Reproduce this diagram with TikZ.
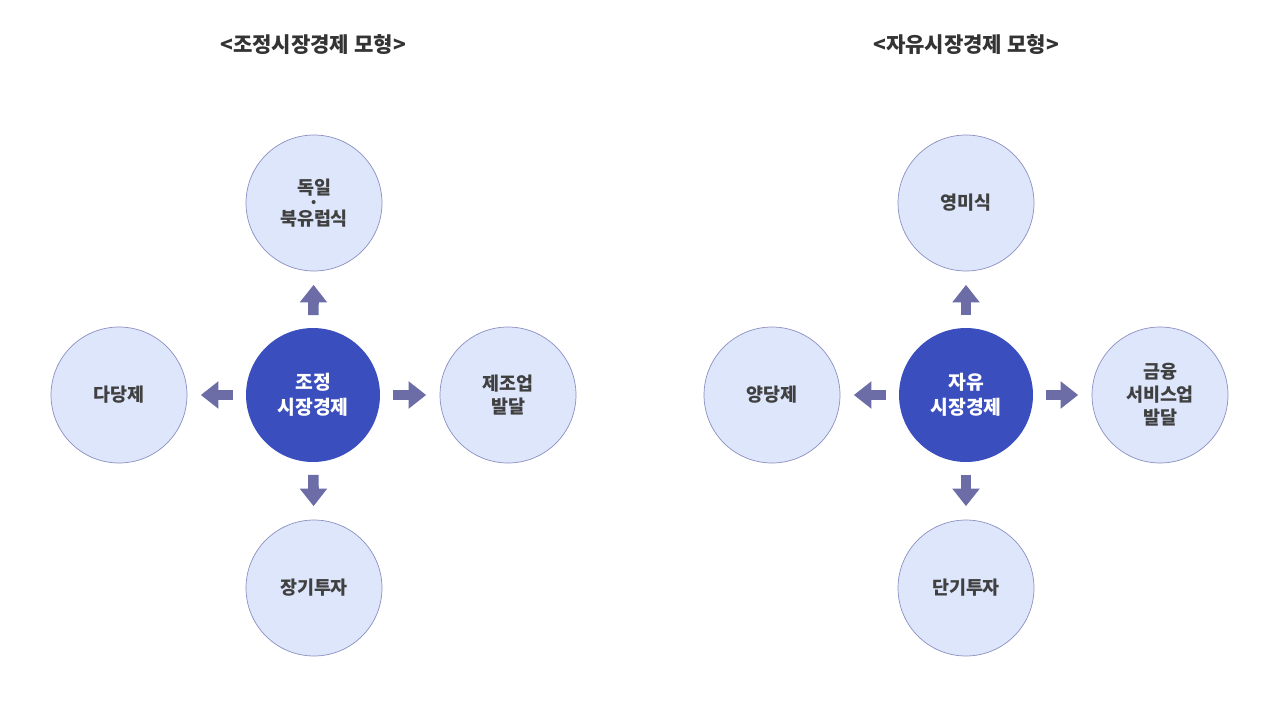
\documentclass[tikz,border=0pt]{standalone}
\usepackage{fontspec}
\setmainfont{Noto Sans CJK KR}
\usetikzlibrary{arrows.meta}
\definecolor{hub}{HTML}{3B4EBE}
\definecolor{leaf}{HTML}{DDE6FB}
\definecolor{rim}{HTML}{8C90C2}
\definecolor{arr}{HTML}{6C6DA6}
\tikzset{
	hub/.style={circle, fill=hub, text=white, minimum size=2.68cm, align=center, font=\fontsize{11}{14}\selectfont\bfseries},
	leaf/.style={circle, draw=rim, fill=leaf, text=black!75, minimum size=2.72cm, align=center, font=\fontsize{10.5}{13}\selectfont\bfseries},
	arrow/.style={arr, line width=6pt, -{Triangle[length=10pt,width=15pt]}, shorten <=0.25cm, shorten >=0.27cm},
	title/.style={font=\fontsize{12}{14}\selectfont\bfseries, text=black!80}
}
\begin{document}
\begin{tikzpicture}[x=0.02cm, y=-0.02cm]
			\useasboundingbox (0,0) rectangle (1280,720);
			\node[title] (tl) at (313, 45)	{<조정시장경제 모형>};
			\node[title] (tr) at (966, 45)	{<자유시장경제 모형>};
			%
			\node[hub]  (c1) at (313,395)	{조정\\시장경제};
			\node[leaf] (n1) at (314,203)	{독일\\[-4pt]·\\[-4pt]북유럽식};
			\node[leaf] (w1) at (119,395)	{다당제};
			\node[leaf] (e1) at (508,395)	{제조업\\발달};
			\node[leaf] (s1) at (314,588)	{장기투자};
			%
			\node[hub]  (c2) at (966,395)	{자유\\시장경제};
			\node[leaf] (n2) at (966,203)	{영미식};
			\node[leaf] (w2) at (772,395)	{양당제};
			\node[leaf] (e2) at (1160,395)	{금융\\서비스업\\발달};
			\node[leaf] (s2) at (966,588)	{단기투자};
			%
			\foreach \c/\n/\w/\e/\s in {c1/n1/w1/e1/s1, c2/n2/w2/e2/s2}
			{	\foreach \t in {\n,\w,\e,\s}
				\draw[arrow] (\c) -- (\t);
			}
\end{tikzpicture}
\end{document}
